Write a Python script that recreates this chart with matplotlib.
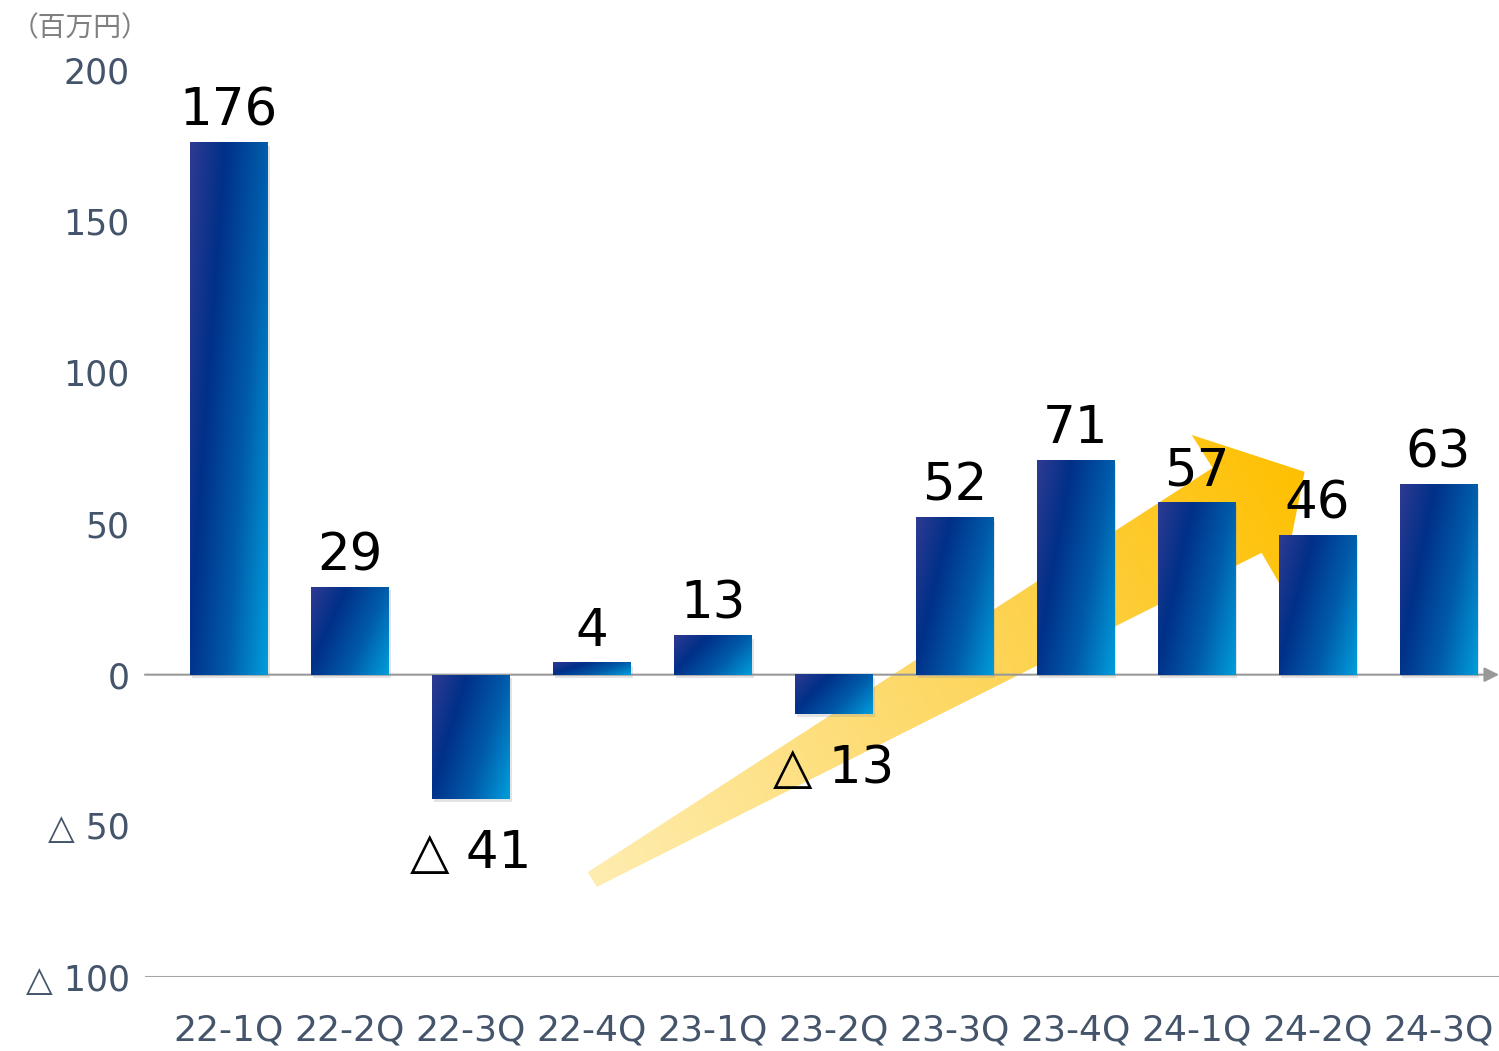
import numpy as np
import matplotlib.pyplot as plt
import matplotlib.patheffects as pe
from matplotlib.colors import LinearSegmentedColormap, to_rgb
from matplotlib.patches import Polygon

# data
quarters = ['22-1Q', '22-2Q', '22-3Q', '22-4Q', '23-1Q', '23-2Q',
            '23-3Q', '23-4Q', '24-1Q', '24-2Q', '24-3Q']
profit = [176, 29, -41, 4, 13, -13, 52, 71, 57, 46, 63]
yticks = [200, 150, 100, 50, 0, -50, -100]
unit_label = '（百万円）'


def fmt(v):
    # negative values are written with a triangle in Japanese reports
    return f'△ {abs(v)}' if v < 0 else f'{v}'


tick_color = '#44546A'
fig = plt.figure(figsize=(14.99, 10.51), dpi=100)
ax = fig.add_axes([0.0967, 0.0704, 0.9033, 0.863])
ax.patch.set_alpha(0)

# bars with a diagonal blue gradient
bar_cmap = LinearSegmentedColormap.from_list(
    'bar', [(0, '#2E3A92'), (0.3, '#003088'), (0.65, '#005BAA'), (1, '#009DDB')])
x = np.arange(len(quarters))
bars = ax.bar(x, profit, width=0.64, color='#0050A0', zorder=3,
              path_effects=[pe.SimplePatchShadow(offset=(1.5, -2.5), shadow_rgbFace='#909090', alpha=0.25),
                            pe.Normal()])
u, w = np.meshgrid(np.linspace(0, 1, 60), np.linspace(0, 1, 200))
grad = (u + 0.5 * w) / 1.5
for b in bars:
    x0, y0, bh = b.get_x(), b.get_y(), b.get_height()
    ax.imshow(grad, cmap=bar_cmap, extent=(x0, x0 + b.get_width(), min(y0, y0 + bh), max(y0, y0 + bh)),
              origin='upper', aspect='auto', zorder=4, interpolation='bilinear')

# value labels
for xi, v in zip(x, profit):
    off = 12 if v >= 0 else -50
    ax.annotate(fmt(v), (xi, v), xytext=(0, off), textcoords='offset points',
                ha='center', va='baseline', fontsize=37, color='black', zorder=6)

# yellow trend arrow (decoration, in data units)
arrow_pts = [(2.967, -65.3), (3.041, -70.2), (8.537, 40.3), (8.702, 29.0),
             (8.893, 67.1), (7.959, 79.3), (8.132, 68.4)]
poly = Polygon(arrow_pts, closed=True, facecolor='none', edgecolor='none')
ax.add_patch(poly)
gx, gy = np.meshgrid(np.linspace(2.9, 9.0, 300), np.linspace(-72, 82, 300))
tail = np.array([3.0, -67.7])
tip = np.array([8.893, 67.1])
d = np.array([(tip[0] - tail[0]) * 121, (tip[1] - tail[1]) * 3.023])
t = ((gx - tail[0]) * 121 * d[0] + (gy - tail[1]) * 3.023 * d[1]) / (d @ d)
t = np.clip(t, 0, 1)
c0, c1, c2 = np.array(to_rgb('#FFEDB0')), np.array(to_rgb('#FDD55A')), np.array(to_rgb('#FFC000'))
rgb = np.where(t[..., None] < 0.55,
               c0 + (c1 - c0) * (t[..., None] / 0.55),
               c1 + (c2 - c1) * ((t[..., None] - 0.55) / 0.45))
img = ax.imshow(rgb, extent=(2.9, 9.0, -72, 82), origin='lower', aspect='auto',
                zorder=1.5, interpolation='bilinear')
img.set_clip_path(poly)

# zero line with arrowhead, bottom line
xmin, xmax = -0.694, 10.5
ax.annotate('', xy=(xmax, 0), xytext=(xmin, 0),
            arrowprops=dict(arrowstyle='-|>', color='#999999', lw=1.5,
                            mutation_scale=22, shrinkA=0, shrinkB=0),
            annotation_clip=False, zorder=2)
ax.axhline(-100, color='#A6A6A6', lw=1.5, zorder=2)

ax.set_xlim(xmin, xmax)
ax.set_ylim(-100, 200)
ax.set_xticks(x)
ax.set_xticklabels(quarters, fontsize=26, color=tick_color)
ax.set_yticks(yticks)
ax.set_yticklabels([fmt(v) for v in yticks], fontsize=25, color=tick_color)
ax.tick_params(axis='x', length=0, pad=26)
ax.tick_params(axis='y', length=0, pad=11)
for s in ax.spines.values():
    s.set_visible(False)

fig.text(80 / 1499, 1 - 28 / 1051, unit_label, ha='center', va='center',
         fontsize=20, color='#7F7F7F', family=['Noto Sans CJK JP', 'DejaVu Sans'])

fig.savefig('out.png', dpi=100)
